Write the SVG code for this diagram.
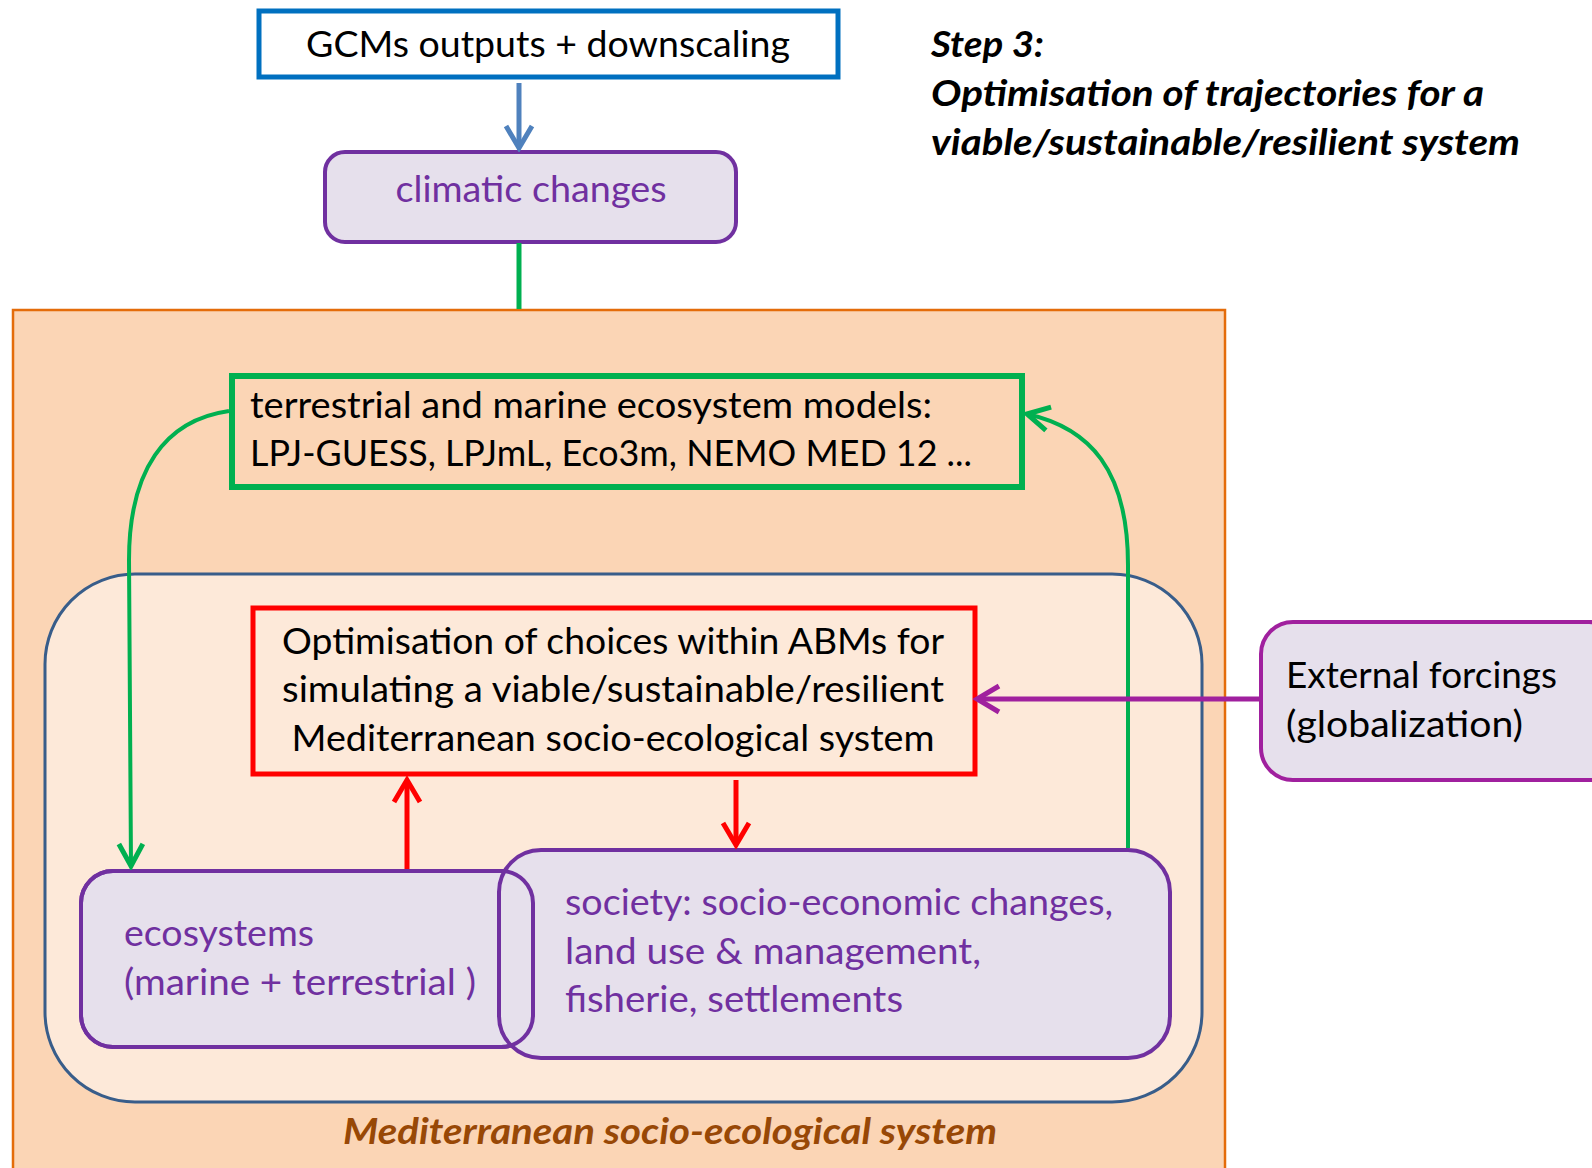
<svg xmlns="http://www.w3.org/2000/svg" width="1592" height="1168" viewBox="0 0 1592 1168">
<defs>
<style>
.t{font-family:Lato,"Liberation Sans",sans-serif;font-size:37px;fill:#000}
.p{fill:#7030A0}
.bi{font-weight:bold;font-style:italic}
.box{fill:#E6E0EC;stroke:#7030A0;stroke-width:4}
</style>
<marker id="aB" viewBox="0 0 32 32" refX="28" refY="16" markerWidth="32" markerHeight="32" markerUnits="userSpaceOnUse" orient="auto"><path d="M6,3 L28,16 L6,29" fill="none" stroke="#4F81BD" stroke-width="5"/></marker>
<marker id="aG" viewBox="0 0 32 32" refX="28" refY="16" markerWidth="32" markerHeight="32" markerUnits="userSpaceOnUse" orient="auto"><path d="M6,4 L28,16 L6,28" fill="none" stroke="#00B050" stroke-width="5"/></marker>
<marker id="aR" viewBox="0 0 32 32" refX="28" refY="16" markerWidth="32" markerHeight="32" markerUnits="userSpaceOnUse" orient="auto"><path d="M6,3 L28,16 L6,29" fill="none" stroke="#FF0000" stroke-width="5"/></marker>
<marker id="aP" viewBox="0 0 32 32" refX="28" refY="16" markerWidth="32" markerHeight="32" markerUnits="userSpaceOnUse" orient="auto"><path d="M6,3 L28,16 L6,29" fill="none" stroke="#A0209E" stroke-width="5"/></marker>
</defs>
<rect width="1592" height="1168" fill="#fff"/>

<g id="system">
<rect x="13" y="310" width="1212" height="870" fill="#FBD5B5" stroke="#E46C0A" stroke-width="2.5"/>
<text class="t bi" x="670" y="1144" text-anchor="middle" style="fill:#984806" textLength="654" lengthAdjust="spacingAndGlyphs">Mediterranean socio-ecological system</text>
</g>

<g id="inner">
<rect x="45" y="574" width="1157" height="528" rx="90" ry="90" fill="#FDE9D9" stroke="#385D8A" stroke-width="3"/>
</g>

<g id="gcms">
<rect x="259" y="11" width="579" height="66" fill="#fff" stroke="#0070C0" stroke-width="5"/>
<text class="t" x="548" y="57" text-anchor="middle" textLength="484" lengthAdjust="spacingAndGlyphs">GCMs outputs + downscaling</text>
</g>

<g id="climatic">
<rect x="325" y="152" width="411" height="90" rx="20" class="box"/>
<text class="t p" x="531" y="202" text-anchor="middle" textLength="271" lengthAdjust="spacingAndGlyphs">climatic changes</text>
</g>

<g id="step3">
<text class="t bi" x="931" y="57" textLength="113" lengthAdjust="spacingAndGlyphs">Step 3:</text>
<text class="t bi" x="931" y="106" textLength="553" lengthAdjust="spacingAndGlyphs">Optimisation of trajectories for a</text>
<text class="t bi" x="931" y="155" textLength="589" lengthAdjust="spacingAndGlyphs">viable/sustainable/resilient system</text>
</g>

<g id="models">
<rect x="232" y="376" width="790" height="111" fill="none" stroke="#00B050" stroke-width="6"/>
<text class="t" x="250" y="418" textLength="682" lengthAdjust="spacingAndGlyphs">terrestrial and marine ecosystem models:</text>
<text class="t" x="250" y="466" textLength="722" lengthAdjust="spacingAndGlyphs">LPJ-GUESS, LPJmL,  Eco3m, NEMO MED 12 ...</text>
</g>

<g id="optim">
<rect x="253" y="608" width="722" height="166" fill="none" stroke="#FF0000" stroke-width="5"/>
<text class="t" x="613" y="654" text-anchor="middle" textLength="662" lengthAdjust="spacingAndGlyphs">Optimisation of choices within ABMs for</text>
<text class="t" x="613" y="702" text-anchor="middle" textLength="662" lengthAdjust="spacingAndGlyphs">simulating a viable/sustainable/resilient</text>
<text class="t" x="613" y="751" text-anchor="middle" textLength="643" lengthAdjust="spacingAndGlyphs">Mediterranean socio-ecological system</text>
</g>

<g id="external">
<rect x="1261" y="622" width="360" height="158" rx="32" fill="#E6E0EC" stroke="#A0209E" stroke-width="4"/>
<text class="t" x="1286" y="688" textLength="271" lengthAdjust="spacingAndGlyphs">External forcings</text>
<text class="t" x="1286" y="737" textLength="237" lengthAdjust="spacingAndGlyphs">(globalization)</text>
</g>

<g id="ecosystems">
<rect x="81" y="871" width="452" height="176" rx="32" class="box"/>
</g>
<g id="society">
<rect x="499" y="850" width="671" height="208" rx="42" class="box"/>
<rect x="81" y="871" width="452" height="176" rx="32" fill="none" stroke="#7030A0" stroke-width="4"/>
<text class="t p" x="124" y="946" textLength="190" lengthAdjust="spacingAndGlyphs">ecosystems</text>
<text class="t p" x="124" y="995" textLength="352" lengthAdjust="spacingAndGlyphs">(marine + terrestrial )</text>
<text class="t p" x="565" y="915" textLength="548" lengthAdjust="spacingAndGlyphs">society: socio-economic changes,</text>
<text class="t p" x="565" y="964" textLength="416" lengthAdjust="spacingAndGlyphs">land use &amp; management,</text>
<text class="t p" x="565" y="1012" textLength="338" lengthAdjust="spacingAndGlyphs">fisherie, settlements</text>
</g>

<g id="connectors" fill="none">
<line x1="519" y1="83" x2="519" y2="148" stroke="#4F81BD" stroke-width="5" marker-end="url(#aB)"/>
<line x1="519" y1="243" x2="519" y2="309" stroke="#00B050" stroke-width="5"/>
<path d="M229,411 C165,420 129,470 129,560 L131,866" stroke="#00B050" stroke-width="4" marker-end="url(#aG)"/>
<path d="M1128,848 L1128,565 C1128,470 1090,428 1027,414" stroke="#00B050" stroke-width="4" marker-end="url(#aG)"/>
<line x1="407" y1="869" x2="407" y2="780" stroke="#FF0000" stroke-width="5" marker-end="url(#aR)"/>
<line x1="736" y1="780" x2="736" y2="845" stroke="#FF0000" stroke-width="5" marker-end="url(#aR)"/>
<line x1="1260" y1="699" x2="977" y2="699" stroke="#A0209E" stroke-width="5" marker-end="url(#aP)"/>
</g>
</svg>
